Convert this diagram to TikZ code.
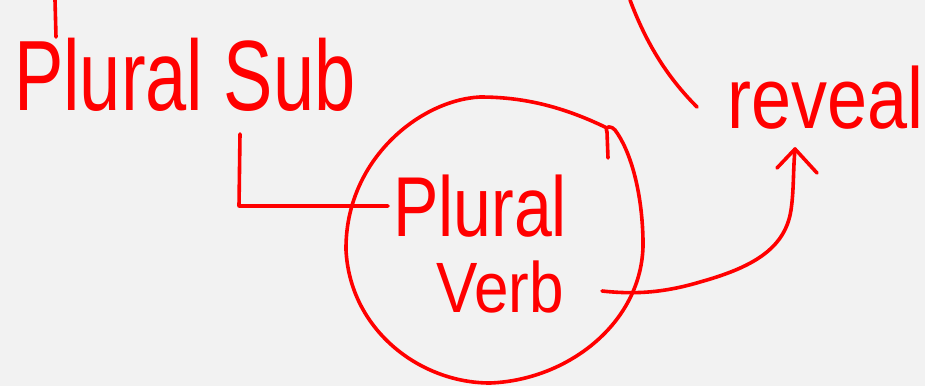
\documentclass[tikz,border=0pt]{standalone}
\usepackage{fontspec}
\setmainfont{Liberation Sans}
\usetikzlibrary{arrows.meta}
\definecolor{ink}{HTML}{FF0000}
\definecolor{paper}{HTML}{F2F2F2}
\tikzset{
  pen/.style={draw=ink, line width=3.6pt, line cap=round, line join=round},
  word/.style={text=ink, inner sep=0pt, anchor=base west},
}
\newcommand{\hw}[3]{\scalebox{1}[#2]{\fontsize{#1}{#1}\selectfont #3}}
\begin{document}
\begin{tikzpicture}[x=1pt,y=-1pt]
\fill[paper] (0,0) rectangle (925,386);
\useasboundingbox (0,0) rectangle (925,386);
% texts
\node[word] (sub) at (14,110) {\hw{74}{1.35}{Plural Sub}};
\node[word] (plural) at (393,236) {\hw{68}{1.25}{Plural}};
\node[word] (verb) at (436,312) {\hw{62}{1.15}{Verb}};
\node[word] (reveal) at (727,128) {\hw{72}{1.2}{reveal}};
% circle
\draw[pen] (607,128) .. controls (560,105) and (520,97) .. (480,97)
  .. controls (420,100) and (345,160) .. (346,250)
  .. controls (350,330) and (420,383) .. (490,383)
  .. controls (570,380) and (645,320) .. (643,240)
  .. controls (642,190) and (630,150) .. (615,130)
  .. controls (612,126) and (604,125) .. (607,132) -- (608,158);
% top-left stub
\coordinate (t1) at (55,0);
\coordinate (t2) at (56,37);
\draw[pen] (t1) -- (t2);
% top arc
\coordinate (a1) at (630,0);
\coordinate (a2) at (697,107);
\draw[pen] (a1) .. controls (645,40) and (665,75) .. (a2);
% L connector
\coordinate (l1) at (240,134);
\coordinate (l2) at (239,206);
\coordinate (l3) at (388,206);
\draw[pen] (l1) -- (l2) -- (l3);
% arrow
\coordinate (s) at (602,291);
\coordinate (e) at (795,149);
\draw[pen] (s) .. controls (630,294) and (660,294) .. (700,282)
  .. controls (750,268) and (785,250) .. (791,210)
  .. controls (794,190) and (793,170) .. (e);
\coordinate (b1) at (777,168);
\coordinate (b2) at (817,173);
\draw[pen] (b1) -- (e) -- (b2);
\end{tikzpicture}
\end{document}
